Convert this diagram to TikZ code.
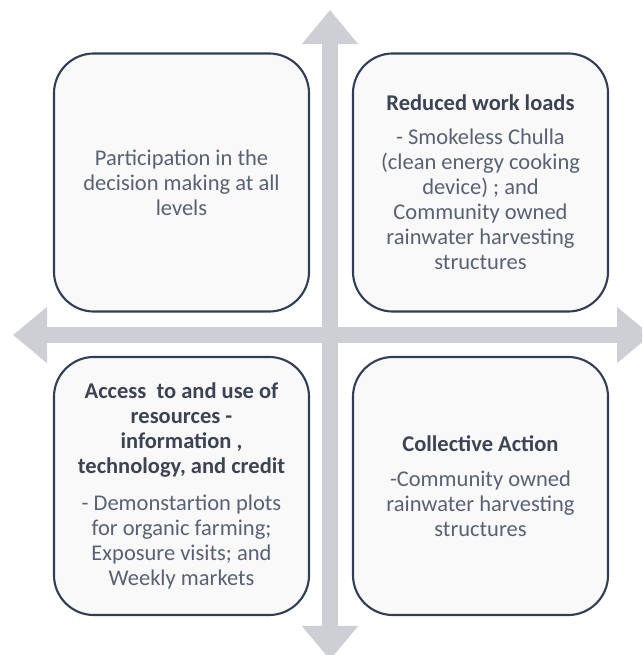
\documentclass[tikz,border=0pt]{standalone}
\usepackage{fontspec}
\setmainfont{Carlito}
\usepackage{tikz}
\usetikzlibrary{arrows.meta,positioning}
\definecolor{axisgray}{RGB}{206,207,212}
\definecolor{boxedge}{RGB}{50,62,86}
\definecolor{boxfill}{RGB}{249,249,249}
\definecolor{headtext}{RGB}{60,68,84}
\definecolor{bodytext}{RGB}{88,98,116}
\newcommand{\quadtitle}[1]{{\bfseries\color{headtext}#1}}

\begin{document}
\begin{tikzpicture}[x=0.025cm, y=-0.025cm,
  quad/.style={draw=boxedge, line width=1.5pt, fill=boxfill,
    rounded corners=1cm, minimum width=6.375cm, minimum height=6.45cm,
    inner sep=0pt, align=center, text=bodytext,
    font=\fontsize{16}{17.8}\selectfont},
  axis/.style={axisgray, line width=0.4cm,
    {Triangle[width=1.35cm,length=0.85cm]}-{Triangle[width=1.35cm,length=0.85cm]}}]

  % Page: 642 x 655 units, y running downwards
  \clip (0,0) rectangle (642,655);

  % Ends of the two axes
  \coordinate (north) at (330,10);
  \coordinate (south) at (330,660);
  \coordinate (west)  at (13,335);
  \coordinate (east)  at (651,335);

  % Crossing block arrows behind the boxes
  \draw[axis] (west) -- (east);
  \draw[axis] (south) -- (north);

  % The four quadrants
  \node[quad] (decide) at (181.5,182.5)
    {Participation in the\\ decision making at all\\ levels};

  \node[quad] (workload) at (480.5,182.5)
    {\quadtitle{Reduced work loads}\\[0.22cm]
     - Smokeless Chulla\\ (clean energy cooking\\ device) ; and\\
     Community owned\\ rainwater harvesting\\ structures};

  \node[quad] (access) at (181.5,486)
    {\quadtitle{Access~ to and use of}\\ \quadtitle{resources -}\\
     \quadtitle{information ,}\\ \quadtitle{technology, and credit}\\[0.28cm]
     - Demonstartion plots\\ for organic farming;\\ Exposure visits; and\\
     Weekly markets};

  \node[quad] (collective) at (480.5,486)
    {\quadtitle{Collective Action}\\[0.25cm]
     -Community owned\\ rainwater harvesting\\ structures};
\end{tikzpicture}
\end{document}
